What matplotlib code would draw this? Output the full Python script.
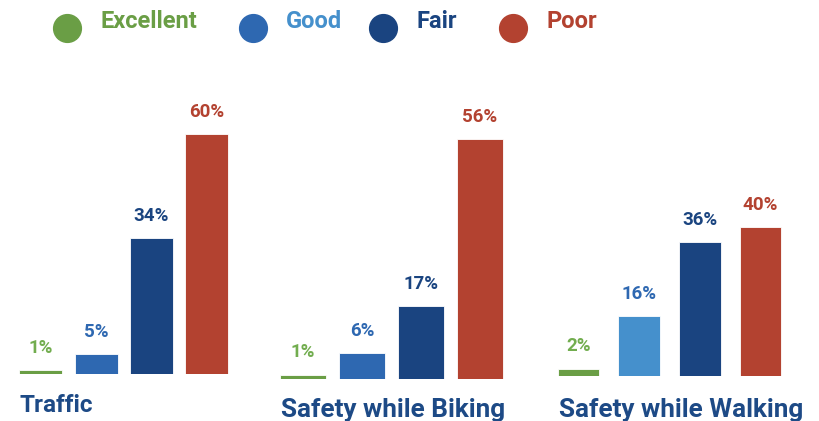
import matplotlib.pyplot as plt
from matplotlib.lines import Line2D

plt.rcParams['font.family'] = ['Roboto', 'DejaVu Sans']
plt.rcParams['font.weight'] = 'bold'

# data
ratings = ['Excellent', 'Good', 'Fair', 'Poor']
groups = ['Traffic', 'Safety while Biking', 'Safety while Walking']
traffic = [1, 5, 34, 60]
biking = [1, 6, 17, 56]
walking = [2, 16, 36, 40]

# colours
green = '#6a9e45'
blue = '#2e68b1'
light_blue = '#4590cc'
dark_blue = '#1a4480'
red = '#b34230'
label_green = '#72ad4f'
text_blue = '#1d4a86'

W, H = 819, 421
fig = plt.figure(figsize=(W / 100, H / 100), dpi=100)


def px_axes(left, right, base, top):
    # axes placed by pixel box (y measured from top of image)
    return fig.add_axes([left / W, 1 - base / H, (right - left) / W, (base - top) / H])


# layout per group: (left px, right px, baseline px, px per percent, bar width, bar colours)
layouts = [
    (13.4, 234.0, 374, 4.0, 0.78, [green, blue, dark_blue, red]),
    (273.5, 509.5, 379, 4.286, 0.78, [green, blue, dark_blue, red]),
    (548.0, 791.0, 376, 3.72, 0.68, [green, light_blue, dark_blue, red]),
]
label_cols = [label_green, blue, dark_blue, red]
series = [traffic, biking, walking]

for vals, (l, r, base, scale, bw, cols) in zip(series, layouts):
    ax = px_axes(l, r, base, 60)
    ax.bar(range(4), vals, width=bw, color=cols, edgecolor='white', linewidth=0.6)
    ax.set_xlim(-0.5, 3.5)
    ax.set_ylim(0, (base - 60) / scale)
    ax.axis('off')
    for i, v in enumerate(vals):
        ax.annotate(f'{v}%', (i, v), xytext=(0, 12.5), textcoords='offset points',
                    ha='center', va='baseline', fontsize=13.5, fontweight='bold',
                    color=label_cols[i])

# group titles
fig.text(20 / W, 1 - 412 / H, groups[0], fontsize=17.5, fontweight='bold',
         color=text_blue, va='baseline')
fig.text(281 / W, 1 - 417 / H, groups[1], fontsize=18.8, fontweight='bold',
         color=text_blue, va='baseline')
fig.text(559 / W, 1 - 417 / H, groups[2], fontsize=18.8, fontweight='bold',
         color=text_blue, va='baseline')

# legend
leg_ax = fig.add_axes([0, 0, 1, 1])
leg_ax.set_xlim(0, W)
leg_ax.set_ylim(H, 0)
leg_ax.axis('off')
circle_x = [67, 253, 383, 513]
text_x = [100, 286, 417, 547]
circle_cols = [green, blue, dark_blue, red]
text_cols = [green, light_blue, dark_blue, red]
for name, cx, tx, cc, tc in zip(ratings, circle_x, text_x, circle_cols, text_cols):
    leg_ax.add_line(Line2D([cx], [27.5], marker='o', markersize=20, color=cc, linestyle=''))
    leg_ax.text(tx, 27.5, name, fontsize=17, fontweight='bold', color=tc, va='baseline')

plt.savefig('out.png', dpi=100)
plt.close()
